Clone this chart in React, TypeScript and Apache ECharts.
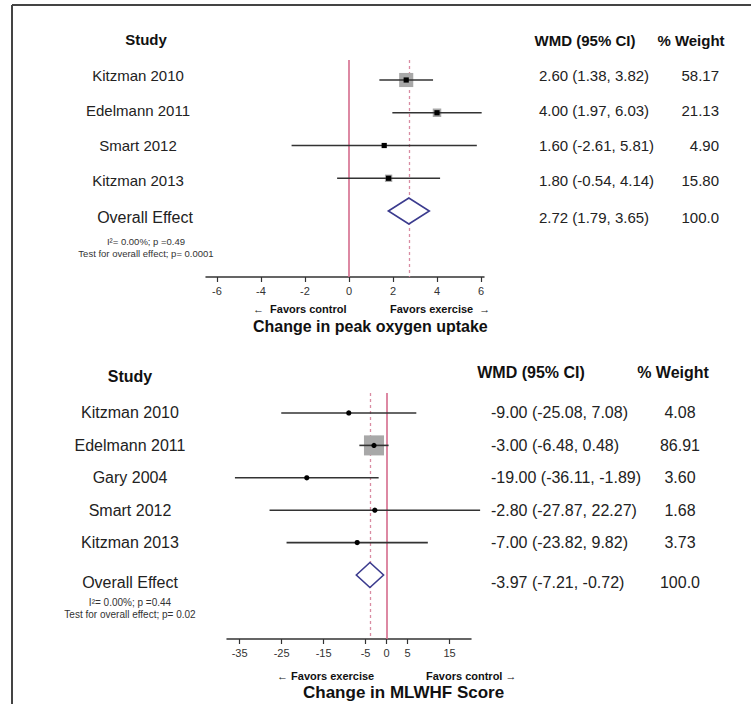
import React, { useEffect, useRef } from "react";
import * as echarts from "echarts";

const FONT = '"Liberation Sans", Arial, Helvetica, sans-serif';

// ---------- Top panel data (peak oxygen uptake) ----------
const topStudies = ["Kitzman 2010", "Edelmann 2011", "Smart 2012", "Kitzman 2013"];
const topWmd = [2.6, 4.0, 1.6, 1.8];
const topLow = [1.38, 1.97, -2.61, -0.54];
const topHigh = [3.82, 6.03, 5.81, 4.14];
const topWeight = [58.17, 21.13, 4.9, 15.8];
const topOverall = [2.72, 1.79, 3.65];
const topOverallWeight = 100.0;
const topTicks = [-6, -4, -2, 0, 2, 4, 6];
const topHet = "I\u00b2= 0.00%; p =0.49";
const topTest = "Test for overall effect; p= 0.0001";
const topTitle = "Change in peak oxygen uptake";
const topFavLeft = "\u2190  Favors control";
const topFavRight = "Favors exercise  \u2192";

// ---------- Bottom panel data (MLWHF score) ----------
const botStudies = ["Kitzman 2010", "Edelmann 2011", "Gary 2004", "Smart 2012", "Kitzman 2013"];
const botWmd = [-9.0, -3.0, -19.0, -2.8, -7.0];
const botLow = [-25.08, -6.48, -36.11, -27.87, -23.82];
const botHigh = [7.08, 0.48, -1.89, 22.27, 9.82];
const botWeight = [4.08, 86.91, 3.6, 1.68, 3.73];
const botOverall = [-3.97, -7.21, -0.72];
const botOverallWeight = 100.0;
const botTicks = [-35, -25, -15, -5, 0, 5, 15];
const botHet = "I\u00b2= 0.00%; p =0.44";
const botTest = "Test for overall effect; p= 0.02";
const botTitle = "Change in MLWHF Score";
const botFavLeft = "\u2190 Favors exercise";
const botFavRight = "Favors control \u2192";

const fmtW = (w: number) => (w === 100 ? "100.0" : w.toFixed(2));
const fmtCI = (e: number, l: number, h: number) =>
  `${e.toFixed(2)} (${l.toFixed(2)}, ${h.toFixed(2)})`;

type Panel = {
  studies: string[];
  wmd: number[];
  low: number[];
  high: number[];
  weight: number[];
  overall: number[];
  overallWeight: number;
  nameX: number;
  overallX: number;
  nameSize: number;
  overallSize: number;
  wmdX: number;
  weightX: number;
  weightAlign: string;
  valSize: number;
  sqK: number;
  marker: "square" | "circle";
  diamondH: number;
  textShift: (i: number, n: number) => number;
  overallShift: number;
};

const topPanel: Panel = {
  studies: topStudies,
  wmd: topWmd,
  low: topLow,
  high: topHigh,
  weight: topWeight,
  overall: topOverall,
  overallWeight: topOverallWeight,
  nameX: 138,
  overallX: 145,
  nameSize: 15,
  overallSize: 16,
  wmdX: 539,
  weightX: 719,
  weightAlign: "right",
  valSize: 15,
  sqK: 1.85,
  marker: "square",
  diamondH: 13,
  textShift: (i) => (i - 2) * 2.5,
  overallShift: 6,
};

const botPanel: Panel = {
  studies: botStudies,
  wmd: botWmd,
  low: botLow,
  high: botHigh,
  weight: botWeight,
  overall: botOverall,
  overallWeight: botOverallWeight,
  nameX: 130,
  overallX: 130,
  nameSize: 16,
  overallSize: 16,
  wmdX: 491,
  weightX: 680,
  weightAlign: "center",
  valSize: 16,
  sqK: 2.15,
  marker: "circle",
  diamondH: 12.5,
  textShift: () => 0,
  overallShift: 7,
};

function studySeries(p: Panel, idx: number, zeroColor: string, dashColor: string) {
  const data = p.studies.map((_, i) => [i, p.wmd[i], p.low[i], p.high[i], p.weight[i]]);
  return {
    type: "custom",
    xAxisIndex: idx,
    yAxisIndex: idx,
    clip: false,
    silent: true,
    z: 3,
    encode: { x: [1, 2, 3], y: 0 },
    data,
    renderItem: (params: any, api: any) => {
      const i = api.value(0);
      const est = api.value(1);
      const lo = api.value(2);
      const hi = api.value(3);
      const w = api.value(4);
      const [xl, y] = api.coord([lo, i]);
      const [xh] = api.coord([hi, i]);
      const [xe] = api.coord([est, i]);
      const s = Math.sqrt(w) * p.sqK;
      const ty = y + p.textShift(i, p.studies.length);
      const children: any[] = [
        {
          type: "rect",
          shape: { x: xe - s / 2, y: y - s / 2, width: s, height: s },
          style: { fill: "#a8a8a8" },
        },
        {
          type: "line",
          shape: { x1: xl, y1: y, x2: xh, y2: y },
          style: { stroke: "#333333", lineWidth: 1.6 },
        },
        p.marker === "square"
          ? {
              type: "rect",
              shape: { x: xe - 2.6, y: y - 2.6, width: 5.2, height: 5.2 },
              style: { fill: "#000000" },
            }
          : {
              type: "circle",
              shape: { cx: xe, cy: y, r: 2.6 },
              style: { fill: "#000000" },
            },
        {
          type: "text",
          style: {
            text: p.studies[i],
            x: p.nameX,
            y: ty,
            fill: "#222222",
            font: `${p.nameSize}px ${FONT}`,
            align: "center",
            verticalAlign: "middle",
          },
        },
        {
          type: "text",
          style: {
            text: fmtCI(est, lo, hi),
            x: p.wmdX,
            y: ty,
            fill: "#222222",
            font: `${p.valSize}px ${FONT}`,
            align: "left",
            verticalAlign: "middle",
          },
        },
        {
          type: "text",
          style: {
            text: fmtW(w),
            x: p.weightX,
            y: ty,
            fill: "#222222",
            font: `${p.valSize}px ${FONT}`,
            align: p.weightAlign,
            verticalAlign: "middle",
          },
        },
      ];
      return { type: "group", children };
    },
    markLine: {
      silent: true,
      symbol: ["none", "none"],
      label: { show: false },
      z: 1,
      data: [
        { xAxis: 0, lineStyle: { color: zeroColor, width: 1.6, type: "solid" } },
        { xAxis: p.overall[0], lineStyle: { color: dashColor, width: 1.3, type: [3, 3] } },
      ],
    },
  };
}

function overallSeries(p: Panel, idx: number, het: string, test: string, hetX: number, hetY: number[], hetSize: number) {
  const row = p.studies.length;
  return {
    type: "custom",
    xAxisIndex: idx,
    yAxisIndex: idx,
    clip: false,
    silent: true,
    z: 4,
    encode: { x: [1, 2, 3], y: 0 },
    data: [[row, p.overall[0], p.overall[1], p.overall[2], p.overallWeight]],
    renderItem: (params: any, api: any) => {
      const i = api.value(0);
      const est = api.value(1);
      const lo = api.value(2);
      const hi = api.value(3);
      const w = api.value(4);
      const [xl, y] = api.coord([lo, i]);
      const [xh] = api.coord([hi, i]);
      const [xe] = api.coord([est, i]);
      const h = p.diamondH;
      const ty = y + p.overallShift;
      return {
        type: "group",
        children: [
          {
            type: "polygon",
            shape: { points: [[xl, y], [xe, y - h], [xh, y], [xe, y + h]] },
            style: { fill: "#ffffff", stroke: "#3b3b8e", lineWidth: 1.6 },
          },
          {
            type: "text",
            style: {
              text: "Overall Effect",
              x: p.overallX,
              y: ty,
              fill: "#222222",
              font: `${p.overallSize}px ${FONT}`,
              align: "center",
              verticalAlign: "middle",
            },
          },
          {
            type: "text",
            style: {
              text: fmtCI(est, lo, hi),
              x: p.wmdX,
              y: ty,
              fill: "#222222",
              font: `${p.valSize}px ${FONT}`,
              align: "left",
              verticalAlign: "middle",
            },
          },
          {
            type: "text",
            style: {
              text: fmtW(w),
              x: p.weightX,
              y: ty,
              fill: "#222222",
              font: `${p.valSize}px ${FONT}`,
              align: p.weightAlign,
              verticalAlign: "middle",
            },
          },
          {
            type: "text",
            style: {
              text: het,
              x: hetX,
              y: hetY[0],
              fill: "#333333",
              font: `${hetSize}px ${FONT}`,
              align: "center",
              verticalAlign: "middle",
            },
          },
          {
            type: "text",
            style: {
              text: test,
              x: hetX,
              y: hetY[1],
              fill: "#333333",
              font: `${hetSize}px ${FONT}`,
              align: "center",
              verticalAlign: "middle",
            },
          },
        ],
      };
    },
  };
}

function xAxisCfg(grid: number, min: number, max: number, ticks: number[]) {
  return {
    type: "value",
    gridIndex: grid,
    min,
    max,
    axisLine: { show: true, onZero: false, lineStyle: { color: "#333333", width: 1.5 } },
    axisTick: { show: true, customValues: ticks, length: 5, lineStyle: { color: "#333333", width: 1.2 } },
    axisLabel: {
      show: true,
      customValues: ticks,
      color: "#333333",
      fontSize: 11,
      fontFamily: FONT,
      margin: 8,
    },
    splitLine: { show: false },
  };
}

function txt(text: string, x: number, y: number, size: number, bold: boolean, align = "center", color = "#111111") {
  return {
    type: "text",
    silent: true,
    style: {
      text,
      x,
      y,
      fill: color,
      font: `${bold ? "bold " : ""}${size}px ${FONT}`,
      align,
      verticalAlign: "middle",
    },
  };
}

export default function App() {
  const ref = useRef<HTMLDivElement>(null);
  useEffect(() => {
    if (!ref.current) return;
    const chart = echarts.init(ref.current, null, { renderer: "svg" });
    const pink = "#d56b8c";
    const pinkDash = "#d98ca2";
    chart.setOption({
      animation: false,
      backgroundColor: "#ffffff",
      grid: [
        { left: 206, top: 60, width: 278, height: 217 },
        { left: 227, top: 393, width: 244, height: 246 },
      ],
      xAxis: [
        xAxisCfg(0, -6.5, 6.136, topTicks),
        xAxisCfg(1, -38.0, 20.1, botTicks),
      ],
      yAxis: [
        { type: "value", gridIndex: 0, min: -0.611, max: 6.015, inverse: true, show: false },
        { type: "value", gridIndex: 1, min: -0.617, max: 6.975, inverse: true, show: false },
      ],
      series: [
        studySeries(topPanel, 0, pink, pinkDash),
        overallSeries(topPanel, 0, topHet, topTest, 146, [241, 253], 9.5),
        studySeries(botPanel, 1, pink, pinkDash),
        overallSeries(botPanel, 1, botHet, botTest, 130, [602, 614], 10),
      ],
      graphic: [
        { type: "line", silent: true, shape: { x1: 12, y1: 5, x2: 751, y2: 5 }, style: { stroke: "#444444", lineWidth: 2 } },
        { type: "line", silent: true, shape: { x1: 12, y1: 5, x2: 12, y2: 704 }, style: { stroke: "#444444", lineWidth: 2 } },
        txt("Study", 146, 39, 15, true),
        txt("WMD (95% CI)", 585, 40, 15, true),
        txt("% Weight", 691, 40, 15, true),
        txt(topFavLeft, 253, 309, 11, true, "left"),
        txt(topFavRight, 390, 309, 11, true, "left"),
        txt(topTitle, 253, 326, 16, true, "left"),
        txt("Study", 130, 376, 16, true),
        txt("WMD (95% CI)", 531, 372, 16, true),
        txt("% Weight", 673, 372, 16, true),
        txt(botFavLeft, 277, 676, 11, true, "left"),
        txt(botFavRight, 426, 676, 11, true, "left"),
        txt(botTitle, 303, 692, 17, true, "left"),
      ],
    });
    return () => chart.dispose();
  }, []);
  return (
    <div
      ref={ref}
      style={{ position: "fixed", left: 0, top: 0, width: 751, height: 704, background: "#fff" }}
    />
  );
}
